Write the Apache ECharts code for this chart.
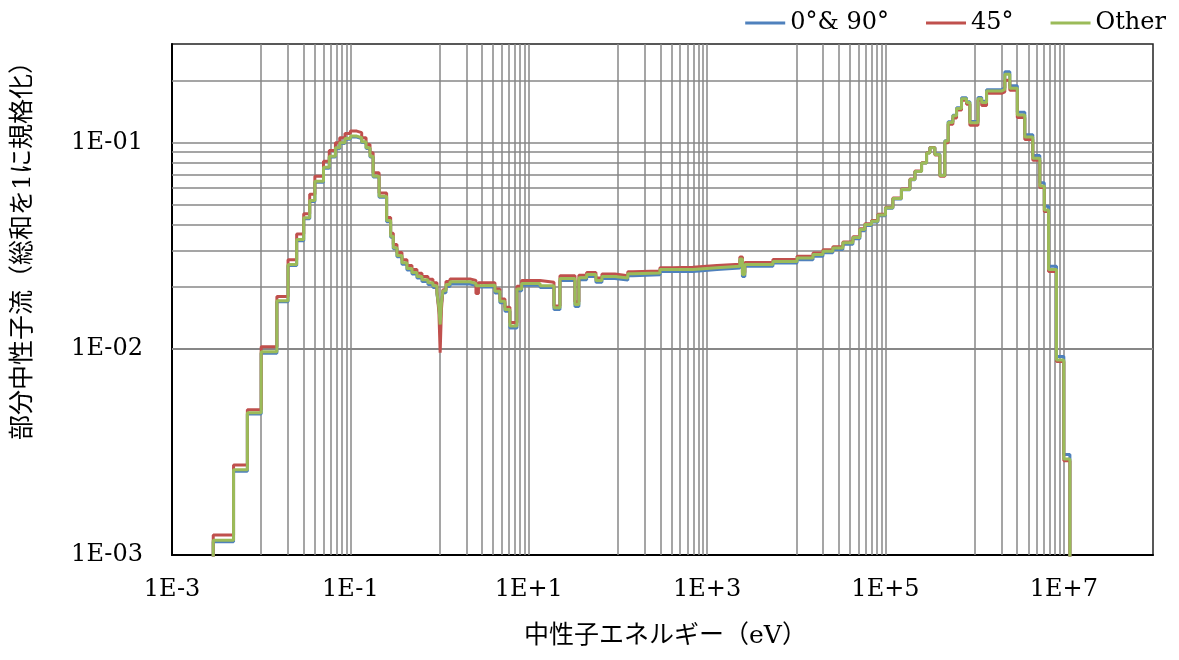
<!DOCTYPE html>
<html><head><meta charset="utf-8">
<script src="https://cdn.jsdelivr.net/npm/echarts@6/dist/echarts.min.js"></script>
<style>html,body{margin:0;padding:0;background:#fff}#c{width:1179px;height:660px}</style>
</head><body><div id="c"></div>
<script>
// Bin edges (eV): value i applies from energyEdges[i] to energyEdges[i+1]
const energyEdges = [
 2.9e-3, 4.9e-3, 7.0e-3, 1.0e-2, 1.5e-2, 2.0e-2, 2.5e-2, 3.0e-2, 3.5e-2, 4.0e-2,
 5.0e-2, 5.8e-2, 6.8e-2, 7.6e-2, 8.7e-2, 0.100, 0.118, 0.134, 0.150, 0.166,
 0.180, 0.210, 0.255, 0.283, 0.303, 0.333, 0.379, 0.431, 0.491, 0.558,
 0.635, 0.741, 0.843, 0.935, 0.984, 1.016, 1.05, 1.09, 1.18, 1.31,
 1.69, 2.19, 2.56, 2.73, 4.18, 4.75, 5.41, 6.15, 7.38, 8.33,
 13.4, 19.2, 22.4, 33.0, 36.5, 44.6, 56.7, 66.2, 92.5, 129,
 147, 296, 414, 693, 1290, 2330, 2490, 2650, 5470, 1.02e4,
 1.54e4, 1.99e4, 2.57e4, 3.33e4, 4.31e4, 5.16e4, 5.87e4, 6.98e4, 8.22e4, 1.0e5,
 1.21e5, 1.51e5, 1.88e5, 2.14e5, 2.54e5, 2.89e5, 3.15e5, 3.58e5, 4.07e5, 4.63e5,
 5.05e5, 5.70e5, 6.27e5, 7.13e5, 8.11e5, 8.84e5, 1.09e6, 1.20e6, 1.36e6, 2.0e6,
 2.18e6, 2.48e6, 3.01e6, 3.65e6, 4.49e6, 5.38e6, 6.04e6, 6.74e6, 8.28e6, 1.0e7,
 1.17e7
];
const flux0_90 = [
 1.16e-3, 2.55e-3, 4.82e-3, 9.5e-3, 1.69e-2, 2.53e-2, 3.34e-2, 4.26e-2, 5.17e-2, 6.42e-2,
 7.50e-2, 8.50e-2, 9.33e-2, 9.87e-2, 0.1035, 0.1063, 0.1044, 0.0998, 0.0934, 0.0850,
 0.0679, 0.0543, 0.0413, 0.0347, 0.0305, 0.0279, 0.0257, 0.0241, 0.0230, 0.0220,
 0.0212, 0.0205, 0.0198, 0.0184, 0.0158, 0.0134, 0.0165, 0.0187, 0.0200, 0.0206,
 0.0206, 0.0203, 0.0199, 0.0199, 0.0186, 0.0167, 0.0152, 0.0126, 0.0191, 0.0203,
 0.0198, 0.0155, 0.0214, 0.0160, 0.0216, 0.0224, 0.0210, 0.0219, 0.0215, 0.0226,
 0.0228, 0.0237, 0.0237, 0.0242, 0.0246, 0.0268, 0.0224, 0.0251, 0.0260, 0.0270,
 0.0281, 0.0292, 0.0303, 0.0321, 0.0341, 0.0373, 0.0396, 0.0411, 0.0441, 0.0479,
 0.0532, 0.0589, 0.0659, 0.0722, 0.0795, 0.0891, 0.0946, 0.0878, 0.0694, 0.1020,
 0.1258, 0.1355, 0.1472, 0.1645, 0.1575, 0.1262, 0.1650, 0.1585, 0.1800, 0.1840,
 0.220, 0.188, 0.140, 0.109, 0.0865, 0.0637, 0.0490, 0.0251, 0.00917, 0.00307
];
const flux45 = [
 1.25e-3, 2.73e-3, 5.06e-3, 1.023e-2, 1.79e-2, 2.70e-2, 3.60e-2, 4.51e-2, 5.60e-2, 6.86e-2,
 8.11e-2, 9.15e-2, 9.97e-2, 0.1054, 0.1106, 0.1135, 0.1115, 0.1054, 0.0978, 0.0891,
 0.0713, 0.0568, 0.0432, 0.0363, 0.0320, 0.0293, 0.0270, 0.0253, 0.0242, 0.0232,
 0.0224, 0.0217, 0.0209, 0.0190, 0.0150, 0.00957, 0.0155, 0.0193, 0.0212, 0.0218,
 0.0218, 0.0214, 0.0185, 0.0209, 0.0195, 0.0174, 0.0159, 0.0134, 0.0201, 0.0214,
 0.0210, 0.0161, 0.0226, 0.0169, 0.0227, 0.0234, 0.0220, 0.0230, 0.0226, 0.0236,
 0.0238, 0.0247, 0.0248, 0.0253, 0.0257, 0.0278, 0.0234, 0.0262, 0.0271, 0.0281,
 0.0291, 0.0302, 0.0312, 0.0329, 0.0349, 0.0381, 0.0403, 0.0418, 0.0448, 0.0485,
 0.0538, 0.0594, 0.0664, 0.0726, 0.0798, 0.0892, 0.0946, 0.0870, 0.0685, 0.0995,
 0.1225, 0.1315, 0.1435, 0.160, 0.153, 0.121, 0.160, 0.151, 0.173, 0.176,
 0.200, 0.179, 0.132, 0.1034, 0.0820, 0.0605, 0.0462, 0.0237, 0.00866, 0.00286
];
const fluxOther = [
 1.18e-3, 2.59e-3, 4.89e-3, 9.66e-3, 1.71e-2, 2.56e-2, 3.38e-2, 4.31e-2, 5.23e-2, 6.49e-2,
 7.59e-2, 8.58e-2, 9.43e-2, 9.97e-2, 0.1045, 0.1073, 0.1054, 0.1008, 0.0943, 0.0858,
 0.0686, 0.0549, 0.0418, 0.0351, 0.0309, 0.0283, 0.0261, 0.0245, 0.0234, 0.0224,
 0.0216, 0.0209, 0.0202, 0.0187, 0.0158, 0.0131, 0.0167, 0.0191, 0.0205, 0.0211,
 0.0211, 0.0207, 0.0202, 0.0203, 0.0190, 0.0170, 0.0155, 0.0129, 0.0195, 0.0207,
 0.0202, 0.0158, 0.0219, 0.0164, 0.0221, 0.0229, 0.0214, 0.0224, 0.0220, 0.0231,
 0.0233, 0.0242, 0.0242, 0.0247, 0.0251, 0.0272, 0.0229, 0.0256, 0.0265, 0.0275,
 0.0286, 0.0297, 0.0308, 0.0326, 0.0346, 0.0378, 0.0400, 0.0415, 0.0445, 0.0482,
 0.0535, 0.0591, 0.0661, 0.0723, 0.0795, 0.0889, 0.0943, 0.0874, 0.0691, 0.1015,
 0.125, 0.1345, 0.146, 0.163, 0.156, 0.1246, 0.163, 0.156, 0.1774, 0.1808,
 0.214, 0.183, 0.136, 0.1063, 0.0838, 0.0614, 0.0471, 0.0242, 0.00881, 0.00292
];
const seriesNames = ['0°& 90°', '45°', 'Other'];
const seriesColors = ['#4F81BD', '#C0504D', '#9BBB59'];
const xLabelExps = [-3, -1, 1, 3, 5, 7];
const yLabelExps = [-3, -2, -1];

const SERIF = "'DejaVu Serif', 'Noto Sans CJK JP', serif";
const FLOOR = 1e-5;
function stepData(edges, vals) {
  const d = [[edges[0], FLOOR]];
  for (let i = 0; i < vals.length; i++) d.push([edges[i], vals[i]]);
  d.push([edges[edges.length - 1], FLOOR]);
  return d;
}
function expOf(v) { return Math.round(Math.log10(v)); }
function isPow(v) { const e = Math.log10(v); return Math.abs(e - Math.round(e)) < 1e-6; }

// grid lines (Excel-style log gridlines)
const vLines = [];
for (let k = -2; k <= 7; k++) vLines.push(Math.pow(10, k));
[-2, 0, 2, 4, 6].forEach(k => { for (let n = 2; n <= 9; n++) vLines.push(Number((n * Math.pow(10, k)).toPrecision(3))); });
const hLines = [];
for (let k = -3; k <= -1; k++) for (let n = 1; n <= 9; n++) {
  const v = Number((n * Math.pow(10, k)).toPrecision(3));
  if (v > 0.001 && v < 0.3) hLines.push(v);
}

const chart = echarts.init(document.getElementById('c'), null, {renderer: 'canvas'});
const allVals = [flux0_90, flux45, fluxOther];
const series = [{
  type: 'line', name: 'grid', data: [], silent: true, z: 1,
  markLine: {
    silent: true, z: 1, symbol: ['none', 'none'], label: {show: false}, animation: false,
    lineStyle: {color: '#878787', width: 1.5, type: 'solid'},
    emphasis: {disabled: true},
    data: vLines.map(v => ({xAxis: v})).concat(hLines.map(v => ({yAxis: v})))
  }
}];
seriesNames.forEach((nm, i) => {
  series.push({
    type: 'line', name: nm, step: 'end', symbol: 'none', showSymbol: false,
    data: stepData(energyEdges, allVals[i]), z: 3 + i, clip: true,
    lineStyle: {width: 3, color: seriesColors[i]}, itemStyle: {color: seriesColors[i]},
    emphasis: {disabled: true}
  });
});

chart.setOption({
  animation: false,
  backgroundColor: '#fff',
  legend: {
    data: seriesNames, right: 8, top: 6, icon: 'rect', itemWidth: 40, itemHeight: 3, itemGap: 37,
    textStyle: {fontFamily: SERIF, fontSize: 24, color: '#000'}
  },
  grid: {left: 172, right: 26, top: 44, bottom: 105, show: true, borderColor: '#222', borderWidth: 1.5, backgroundColor: 'transparent'},
  xAxis: {
    type: 'log', logBase: 10, min: 1e-3, max: 1e8, interval: 1,
    name: '中性子エネルギー（eV）', nameLocation: 'middle', nameGap: 69,
    nameTextStyle: {fontFamily: SERIF, fontSize: 25, color: '#000', padding: [0, 0, 0, 6]},
    axisLine: {show: true, lineStyle: {color: '#000', width: 2}},
    axisTick: {show: false}, splitLine: {show: false}, minorTick: {show: false},
    axisLabel: {
      margin: 23, fontFamily: SERIF, fontSize: 24, color: '#000', showMinLabel: true, showMaxLabel: true,
      formatter: v => { if (!isPow(v)) return ''; const e = expOf(v); return xLabelExps.includes(e) ? ('1E' + (e < 0 ? '-' : '+') + Math.abs(e)) : ''; }
    }
  },
  yAxis: {
    type: 'log', logBase: 10, min: 1e-3, max: 0.3, interval: 1,
    name: '部分中性子流（総和を1に規格化）', nameLocation: 'middle', nameGap: 136, nameRotate: 90,
    nameTextStyle: {fontFamily: SERIF, fontSize: 25, color: '#000', padding: [0, 0, 0, 110]},
    axisLine: {show: true, lineStyle: {color: '#000', width: 2}},
    axisTick: {show: false}, splitLine: {show: false}, minorTick: {show: false},
    axisLabel: {
      margin: 29, fontFamily: SERIF, fontSize: 24, color: '#000',
      formatter: v => { if (!isPow(v)) return ''; const e = expOf(v); return yLabelExps.includes(e) ? ('1E-0' + Math.abs(e)) : ''; }
    }
  },
  series: series
});
</script></body></html>
